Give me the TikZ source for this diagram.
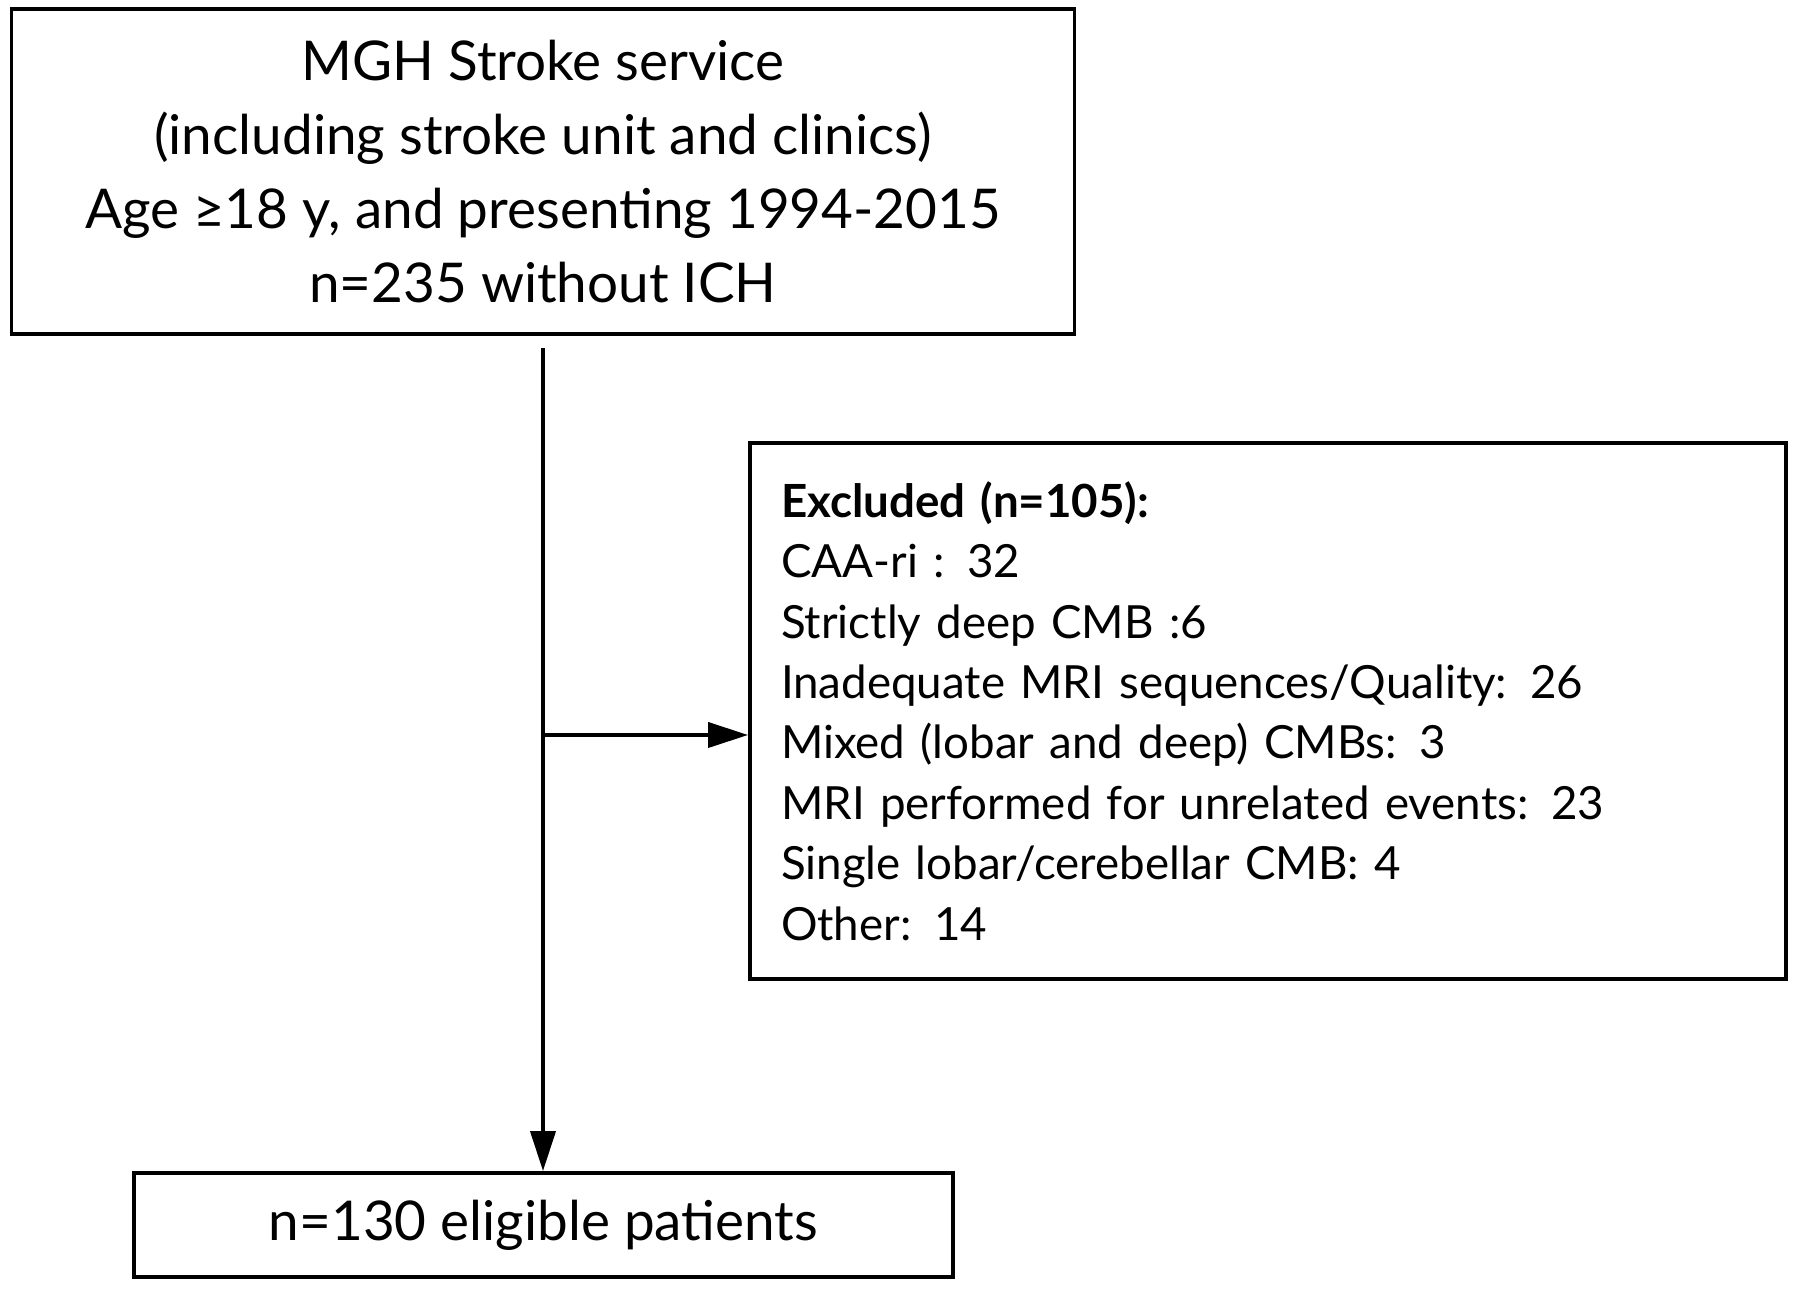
\documentclass[tikz,border=0pt]{standalone}
\usepackage{fontspec}
\setmainfont{Lato}
\usetikzlibrary{arrows.meta, positioning}

\begin{document}
\begin{tikzpicture}[x=1cm, y=1cm]
    \tikzstyle{box} = [rectangle, draw, line width=1.1pt, inner sep=0pt, align=center, font=\fontsize{15.6}{21}\selectfont]
    \tikzstyle{arrow} = [-{Triangle[length=0.4cm, width=0.25cm]}, line width=1.1pt]

    \useasboundingbox (0,0) rectangle (18,-12.91);

    \node[box, minimum width=10.63cm, minimum height=3.25cm] (stroke) at (5.43,-1.715)
        {MGH Stroke service\\(including stroke unit and clinics)\\Age ≥18 y, and presenting 1994-2015\\n=235 without ICH};
    \node[box, minimum width=10.36cm, minimum height=5.36cm, align=left, text width=9.74cm,
          font=\fontsize{13}{17.2}\selectfont] (excl) at (12.68,-7.11)
        {\textbf{Excluded (n=105):}\\CAA-ri : 32\\Strictly deep CMB :6\\Inadequate MRI sequences/Quality: 26\\Mixed (lobar and deep) CMBs: 3\\MRI performed for unrelated events: 23\\Single lobar/cerebellar CMB: 4\\Other: 14};
    \node[box, minimum width=8.19cm, minimum height=1.04cm] (elig) at (5.435,-12.25)
        {n=130 eligible patients};

    \coordinate (branch) at (5.43,-7.35);

    \draw[line width=1.1pt, shorten <=0.12cm] (stroke.south) -- (branch);
    \draw[arrow] (branch) -- (elig.north -| branch);
    \draw[arrow] (branch) -- (excl.west |- branch);
\end{tikzpicture}
\end{document}
